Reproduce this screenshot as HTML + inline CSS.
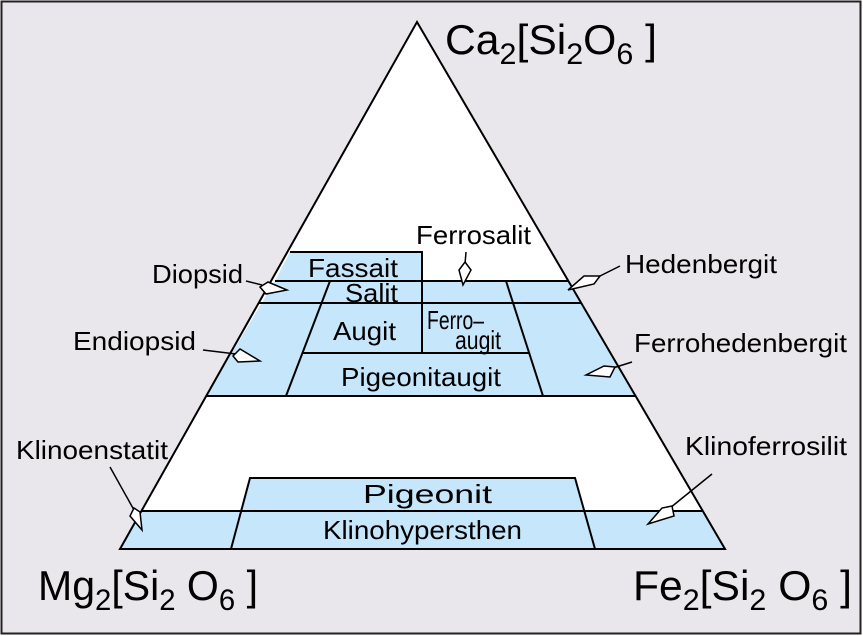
<html><body style="margin:0;background:#fff">
<svg width="863" height="636" viewBox="0 0 863 636" xmlns="http://www.w3.org/2000/svg" font-family="Liberation Sans, sans-serif">
<rect x="1.5" y="1.5" width="859" height="632" fill="#e9e7ec" stroke="#222" stroke-width="2"/>
<polygon points="417,22 120,549 725,549" fill="#fff"/>
<g fill="#c5e6fb" stroke="none">
<polygon points="290,252 422,252 422,281 275,281"/>
<polygon points="275,281 569,281 636,396 206,396"/>
<polygon points="141,511 703,511 725,549 120,549"/>
<polygon points="250,478 575,478 585,511 240,511"/>
</g>
<g stroke="#000" stroke-width="2" fill="none">
<polygon points="417,22 120,549 725,549"/>
<polyline points="290,252 422,252 422,353"/>
<line x1="275" y1="281" x2="569" y2="281"/>
<line x1="259" y1="303" x2="581" y2="303"/>
<line x1="206" y1="396" x2="636" y2="396"/>
<line x1="330" y1="281" x2="286" y2="396"/>
<line x1="506" y1="281" x2="543" y2="396"/>
<line x1="303" y1="353" x2="529" y2="353"/>
<line x1="141" y1="511" x2="703" y2="511"/>
<polyline points="231,549 250,478 575,478 595,549"/>
</g>
<g stroke="#000" stroke-width="1.5" fill="#fff">
<line x1="246" y1="281" x2="262" y2="285"/><polygon points="260,287 268,282 287,290 266,294"/>
<line x1="203" y1="350" x2="236" y2="354"/><polygon points="233,356 240,349 260,361 238,362"/>
<line x1="466" y1="252" x2="465" y2="264"/><polygon points="465,262 471,270 463,285 459,270"/>
<line x1="620" y1="266" x2="598" y2="277"/><polygon points="600,276 594,284 568,290 584,276"/>
<line x1="632" y1="362" x2="613" y2="368"/><polygon points="615,367 610,377 586,375 604,366"/>
<line x1="110" y1="467" x2="134" y2="510"/><polygon points="134,508 140,512 142,530 130,516"/>
<line x1="712" y1="474" x2="670" y2="508"/><polygon points="672,506 674,516 648,524 662,508"/>
</g>
<g font-size="26" fill="#000">
<text x="308" y="277" textLength="90" lengthAdjust="spacingAndGlyphs">Fassait</text>
<text x="345" y="302" textLength="53" lengthAdjust="spacingAndGlyphs">Salit</text>
<text x="333" y="340" textLength="63" lengthAdjust="spacingAndGlyphs">Augit</text>
<text x="427" y="329" textLength="57" lengthAdjust="spacingAndGlyphs">Ferro–</text>
<text x="455" y="349" textLength="46" lengthAdjust="spacingAndGlyphs">augit</text>
<text x="341" y="386" textLength="160" lengthAdjust="spacingAndGlyphs">Pigeonitaugit</text>
<text x="363" y="503" textLength="129" lengthAdjust="spacingAndGlyphs">Pigeonit</text>
<text x="323" y="539" textLength="199" lengthAdjust="spacingAndGlyphs">Klinohypersthen</text>
<text x="416" y="244" textLength="115" lengthAdjust="spacingAndGlyphs">Ferrosalit</text>
<text x="152" y="283" textLength="91" lengthAdjust="spacingAndGlyphs">Diopsid</text>
<text x="625" y="273" textLength="152" lengthAdjust="spacingAndGlyphs">Hedenbergit</text>
<text x="73" y="350" textLength="123" lengthAdjust="spacingAndGlyphs">Endiopsid</text>
<text x="634" y="352" textLength="213" lengthAdjust="spacingAndGlyphs">Ferrohedenbergit</text>
<text x="16" y="459" textLength="152" lengthAdjust="spacingAndGlyphs">Klinoenstatit</text>
<text x="685" y="455" textLength="162" lengthAdjust="spacingAndGlyphs">Klinoferrosilit</text>
</g>
<g font-size="42" fill="#000">
<text x="445" y="54" textLength="212" lengthAdjust="spacingAndGlyphs">Ca<tspan font-size="30" dy="10">2</tspan><tspan dy="-10">[Si</tspan><tspan font-size="30" dy="10">2</tspan><tspan dy="-10">O</tspan><tspan font-size="30" dy="10">6</tspan><tspan dy="-10"> ]</tspan></text>
<text x="38" y="600" textLength="220" lengthAdjust="spacingAndGlyphs">Mg<tspan font-size="30" dy="10">2</tspan><tspan dy="-10">[Si</tspan><tspan font-size="30" dy="10">2</tspan><tspan dy="-10"> O</tspan><tspan font-size="30" dy="10">6</tspan><tspan dy="-10"> ]</tspan></text>
<text x="633" y="600" textLength="219" lengthAdjust="spacingAndGlyphs">Fe<tspan font-size="30" dy="10">2</tspan><tspan dy="-10">[Si</tspan><tspan font-size="30" dy="10">2</tspan><tspan dy="-10"> O</tspan><tspan font-size="30" dy="10">6</tspan><tspan dy="-10"> ]</tspan></text>
</g>
</svg>
</body></html>
